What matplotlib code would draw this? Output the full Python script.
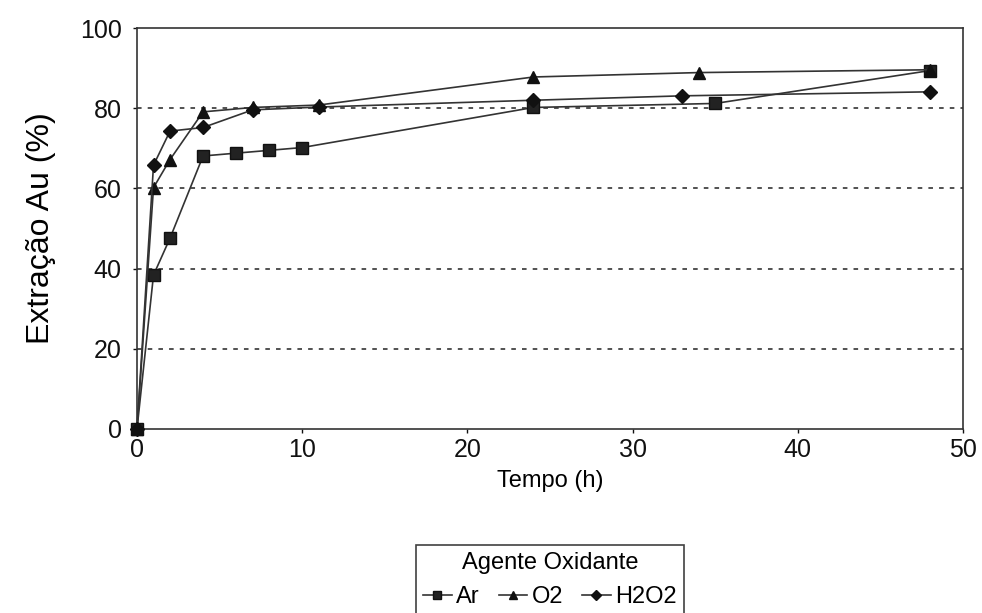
import matplotlib
matplotlib.use("Agg")
import matplotlib.pyplot as plt

plt.rcParams['font.family'] = ['Liberation Sans', 'DejaVu Sans']

# data
t_ar = [0, 1, 2, 4, 6, 8, 10, 24, 35, 48]
ar = [0, 38.4, 47.6, 68.1, 68.8, 69.5, 70.2, 80.2, 81.2, 89.4]

t_o2 = [0, 1, 2, 4, 7, 11, 24, 34, 48]
o2 = [0, 60.2, 67.2, 79.1, 80.2, 80.8, 87.8, 88.9, 89.6]

t_h2o2 = [0, 1, 2, 4, 7, 11, 24, 33, 48]
h2o2 = [0, 65.8, 74.3, 75.2, 79.6, 80.3, 82.0, 83.1, 84.1]

fig = plt.figure(figsize=(9.82, 6.13), dpi=100)
ax = fig.add_axes([0.1395, 0.3002, 0.8412, 0.654])

lc = '#333333'
ax.plot(t_ar, ar, color=lc, lw=1.2, marker='s', ms=9, mfc='#222222', mec='#111111',
        label='Ar', clip_on=False, zorder=3)
ax.plot(t_o2, o2, color=lc, lw=1.2, marker='^', ms=9, mfc='#111111', mec='#111111',
        label='O2', clip_on=False, zorder=3)
ax.plot(t_h2o2, h2o2, color=lc, lw=1.2, marker='D', ms=7, mfc='#111111', mec='#111111',
        label='H2O2', clip_on=False, zorder=3)

ax.set_xlim(0, 50)
ax.set_ylim(0, 100)
ax.set_xticks([0, 10, 20, 30, 40, 50])
ax.set_yticks([0, 20, 40, 60, 80, 100])
for y in [20, 40, 60, 80]:
    ax.axhline(y, color='#222222', lw=1.1, ls=(0, (3, 4)), zorder=0)

ax.tick_params(labelsize=18, length=3, width=1, colors='#111111')
ax.tick_params(axis='y', pad=8)
for s in ax.spines.values():
    s.set_color('#333333')
    s.set_linewidth(1.2)

ax.set_xlabel('Tempo (h)', fontsize=17, labelpad=6)
ax.set_ylabel('Extração Au (%)', fontsize=23, labelpad=17)

leg = ax.legend(title='Agente Oxidante', ncol=3, loc='upper center',
                bbox_to_anchor=(0.5, -0.26), fontsize=17, title_fontsize=17,
                frameon=True, fancybox=False, edgecolor='#111111',
                handlelength=1.2, handletextpad=0.2, columnspacing=0.8,
                borderpad=0.3, markerscale=0.7)
leg.get_frame().set_linewidth(1.2)

fig.savefig('out.png', dpi=100)
